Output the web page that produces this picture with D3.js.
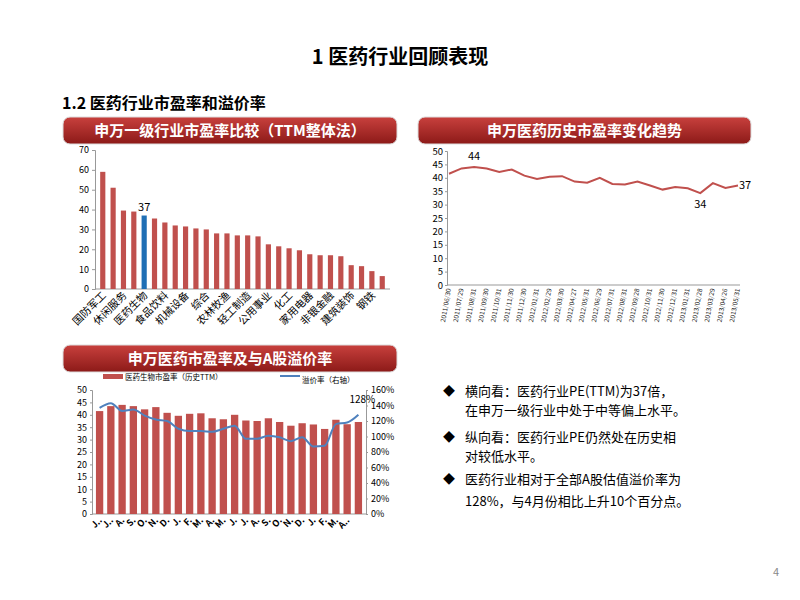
<!DOCTYPE html><html><head><meta charset="utf-8"><script src="https://d3js.org/d3.v7.min.js"></script>
<style>body{margin:0;background:#fff}text{font-family:"Noto Sans CJK SC","Liberation Sans",sans-serif}</style></head><body>
<svg id="s" width="800" height="600"></svg>
<script>
const industries=["国防军工","计算机","休闲服务","传媒","医药生物","电子","食品饮料","通信","机械设备","电气设备","综合","交通运输","农林牧渔","商业贸易","轻工制造","汽车","公用事业","纺织服装","化工","有色金属","家用电器","建筑材料","非银金融","房地产","建筑装饰","采掘","钢铁","银行"];
const industryPE=[59,51,39.5,39,37,35.5,33.5,32,31.5,30.5,30,28,28,27,27,26.5,22.5,21.5,20.5,19.5,17.5,17,17,16.5,12,11.5,9,6.5];
const months=["J","J","A","S","O","N","D","J","F","M","A","M","J","J","A","S","O","N","D","J","F","M","A","M"];
const dates=["2011/06/30","2011/07/29","2011/08/31","2011/09/30","2011/10/31","2011/11/30","2011/12/30","2012/01/31","2012/02/29","2012/03/30","2012/04/27","2012/05/31","2012/06/29","2012/07/31","2012/08/31","2012/09/28","2012/10/31","2012/11/30","2012/12/31","2013/01/31","2013/02/28","2013/03/29","2013/04/26","2013/05/31"];
const histPE=[41.5,43.5,44,43.5,42.2,43.1,40.8,39.6,40.4,40.6,38.6,38.2,40,37.7,37.5,38.6,37.1,35.6,36.6,36.1,34.3,38,36.2,37.1];
const premium=[137,143,133,135,127,122,120,110,107,107,106,110,114,97,97,101,99,94,99,87,88,116,118,128];
const yTicksL=[0,10,20,30,40,50,60,70], yTicksR=[0,5,10,15,20,25,30,35,40,45,50];
const svg=d3.select("#s");
const red="#c0504d";
const defs=svg.append("defs");
const g=defs.append("linearGradient").attr("id","hg").attr("x1",0).attr("x2",0).attr("y1",0).attr("y2",1);
g.append("stop").attr("offset",0).attr("stop-color","#c8403d");g.append("stop").attr("offset",1).attr("stop-color","#8c1a18");
svg.append("text").attr("x",400).attr("y",64).attr("text-anchor","middle").attr("font-size",20).attr("font-weight","bold").text("1 医药行业回顾表现");
svg.append("text").attr("x",62).attr("y",109).attr("font-size",16).attr("font-weight","bold").text("1.2 医药行业市盈率和溢价率");
function header(x,y,w,t){svg.append("rect").attr("x",x).attr("y",y).attr("width",w).attr("height",27).attr("rx",7).attr("fill","url(#hg)").attr("stroke","#ddd");
svg.append("text").attr("x",x+w/2).attr("y",y+19).attr("text-anchor","middle").attr("fill","#fff").attr("font-size",15).attr("font-weight","bold").text(t);}
header(63,117,334,"申万一级行业市盈率比较（TTM整体法）");
header(418,117,333,"申万医药历史市盈率变化趋势");
header(63,345,334,"申万医药市盈率及与A股溢价率");
// chart 1
{const x=d3.scaleBand().domain(industries).range([95,390]).padding(0.5),y=d3.scaleLinear().domain([0,70]).range([289,150]);
const a=svg.append("g").attr("transform","translate(95,0)").call(d3.axisLeft(y).tickValues(yTicksL).tickSize(3));
a.selectAll("text").attr("font-size",9).attr("font-family","Liberation Sans");a.selectAll("path,line").attr("stroke","#999");
svg.append("line").attr("x1",95).attr("x2",390).attr("y1",289).attr("y2",289).attr("stroke","#999");
svg.selectAll(".b1").data(industryPE).join("rect").attr("x",(d,i)=>x(industries[i])).attr("width",x.bandwidth()).attr("y",d=>y(d)).attr("height",d=>289-y(d)).attr("fill",(d,i)=>i==4?"#1f6fb5":red);
svg.append("text").attr("x",x(industries[4])+x.bandwidth()/2).attr("y",y(37)-5).attr("text-anchor","middle").attr("font-size",11).text("37");
industries.forEach((n,i)=>{if(i%2)return;const cx=x(n)+x.bandwidth()/2;svg.append("text").attr("transform",`translate(${cx+4},${296}) rotate(-45)`).attr("text-anchor","end").attr("font-size",10.5).text(n);});}
// chart 2
{const x=d3.scalePoint().domain(d3.range(histPE.length)).range([449,738]),y=d3.scaleLinear().domain([0,50]).range([285,151]);
const a=svg.append("g").attr("transform","translate(447,0)").call(d3.axisLeft(y).tickValues(yTicksR).tickSize(2).tickPadding(2));
a.selectAll("text").attr("font-size",9.5).attr("font-family","Liberation Serif");a.selectAll("path,line").attr("stroke","#999");
svg.append("line").attr("x1",447).attr("x2",740).attr("y1",285).attr("y2",285).attr("stroke","#999");
svg.append("path").attr("d",d3.line().x((d,i)=>x(i)).y(d=>y(d))(histPE)).attr("fill","none").attr("stroke",red).attr("stroke-width",2);
svg.append("text").attr("x",x(2)).attr("y",y(44)-7).attr("text-anchor","middle").attr("font-size",11).attr("font-family","Liberation Serif").text("44");
svg.append("text").attr("x",x(20)).attr("y",y(34.3)+15).attr("text-anchor","middle").attr("font-size",11).attr("font-family","Liberation Serif").text("34");
svg.append("text").attr("x",x(23)+1).attr("y",y(37.1)+3).attr("font-size",11).attr("font-family","Liberation Serif").text("37");
dates.forEach((d,i)=>{svg.append("text").attr("transform",`translate(${x(i)+2},289) rotate(-80)`).attr("text-anchor","end").attr("font-size",6.5).attr("fill","#222").text(d);});}
// chart 3
{const x=d3.scaleBand().domain(d3.range(histPE.length)).range([92,366]).padding(0.35),y=d3.scaleLinear().domain([0,50]).range([514,390]),y2=d3.scaleLinear().domain([0,160]).range([514,390]);
const a=svg.append("g").attr("transform","translate(92,0)").call(d3.axisLeft(y).tickValues(yTicksR).tickSize(2));
const b=svg.append("g").attr("transform","translate(366,0)").call(d3.axisRight(y2).tickValues(d3.range(0,161,20)).tickSize(2).tickFormat(d=>d+"%"));
[a,b].forEach(s=>{s.selectAll("text").attr("font-size",9).attr("font-family","Liberation Sans");s.selectAll("path,line").attr("stroke","#999");});
svg.append("line").attr("x1",92).attr("x2",366).attr("y1",514).attr("y2",514).attr("stroke","#999");
svg.selectAll(".b3").data(histPE).join("rect").attr("x",(d,i)=>x(i)).attr("width",x.bandwidth()).attr("y",d=>y(d)).attr("height",d=>514-y(d)).attr("fill",red);
svg.append("path").attr("d",d3.line().curve(d3.curveMonotoneX).x((d,i)=>x(i)+x.bandwidth()/2).y(d=>y2(d))(premium)).attr("fill","none").attr("stroke","#4f81bd").attr("stroke-width",2);
svg.append("text").attr("x",x(23)+x.bandwidth()/2+4).attr("y",y2(128)-12).attr("text-anchor","middle").attr("font-size",10).text("128%");
months.forEach((m,i)=>{if(i==23)return;const cx=x(i)+x.bandwidth()/2;svg.append("text").attr("transform",`translate(${cx+3},${521}) rotate(-45)`).attr("text-anchor","end").attr("font-size",9).attr("font-weight","bold").text(m+(i==0||i==1||i==22?"..":"."));});
svg.append("rect").attr("x",103).attr("y",374).attr("width",20).attr("height",5).attr("fill",red);
svg.append("text").attr("x",125).attr("y",380).attr("font-size",7.5).text("医药生物市盈率（历史TTM）");
svg.append("line").attr("x1",280).attr("x2",300).attr("y1",376).attr("y2",376).attr("stroke","#4f81bd").attr("stroke-width",2);
svg.append("text").attr("x",302).attr("y",383).attr("font-size",7.5).text("溢价率（右轴）");}
// bullets
const lines=[["◆","横向看：医药行业PE(TTM)为37倍，",396],["","在申万一级行业中处于中等偏上水平。",415],["◆","纵向看：医药行业PE仍然处在历史相",442],["","对较低水平。",461],["◆","医药行业相对于全部A股估值溢价率为",484],["","128%，与4月份相比上升10个百分点。",506]];
lines.forEach(([b,t,y])=>{if(b)svg.append("text").attr("x",443).attr("y",y).attr("font-size",12).text(b);svg.append("text").attr("x",465).attr("y",y).attr("font-size",13).text(t);});
svg.append("text").attr("x",773).attr("y",576).attr("font-size",11).attr("fill","#888").text("4");
</script></body></html>
